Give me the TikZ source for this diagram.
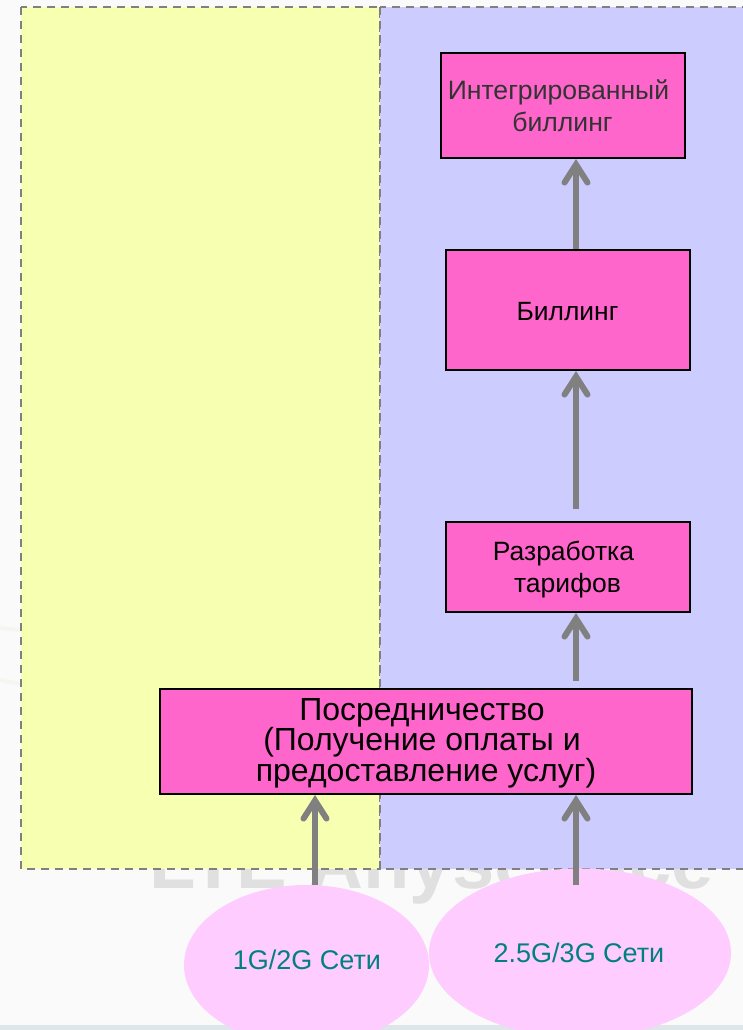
\documentclass[tikz,border=0pt]{standalone}
\usepackage{fontspec}
\setmainfont{Liberation Sans}
\usetikzlibrary{arrows.meta,shapes.geometric}
\definecolor{pinkbox}{HTML}{FF66CC}
\definecolor{pale}{HTML}{FFCCFF}
\definecolor{ylw}{HTML}{F7FFB0}
\definecolor{lav}{HTML}{CCCCFF}
\definecolor{arr}{HTML}{808080}
\definecolor{tealt}{HTML}{008080}
\tikzset{
  x=1pt,y=-1pt,
  zone/.style={draw=arr,line width=1.8pt,dash pattern=on 8pt off 6pt},
  pbox/.style={draw=black,line width=2pt,fill=pinkbox,align=center,inner sep=0pt,anchor=north west},
  net/.style={ellipse,fill=pale,inner sep=0pt},
  up/.style={draw=arr,line width=6pt,-{Straight Barb[length=18pt,width=23pt,line cap=round,line join=miter]}},
  netlabel/.style={text=tealt,font=\fontsize{27}{30}\selectfont}
}
\begin{document}
\begin{tikzpicture}
\useasboundingbox (0,0) rectangle (743,1030);
\fill[white!98!black] (0,0) rectangle (743,1030);
\fill[white!90!black!95!cyan] (0,1025) rectangle (743,1030);
\draw[line width=4pt,color=yellow!35!black!6] (0,628) -- (20,630);
\draw[line width=4pt,color=yellow!35!black!6] (0,680) -- (20,684);
\draw[line width=3pt,color=yellow!20!black!3] (130,870) -- (130,1010);
\node[text=black!12,font=\bfseries\fontsize{76}{76}\selectfont,anchor=base west] (wm) at (146,888) {LTE Anyservice};
\path[zone,fill=ylw] (21,7) rectangle (380,869);
\path[zone,fill=lav] (380,7) rectangle (760,869);
\node[net,minimum width=245,minimum height=160] (g2) at (306.5,965) {};
\node[net,minimum width=302,minimum height=169] (g3) at (580,953) {};
\node[netlabel] (g2t) at (307,960) {1G/2G Сети};
\node[netlabel] (g3t) at (579,953) {2.5G/3G Сети};
\node[pbox,minimum width=244,minimum height=105,text=black!80,font=\fontsize{26.6}{32}\selectfont] (integ) at (439.5,52) {Интегрированный\rule{8pt}{0pt}\\биллинг};
\node[pbox,minimum width=244,minimum height=120,font=\fontsize{26.4}{30}\selectfont] (bill) at (444.5,249) {\rule{0pt}{21pt}Биллинг};
\node[pbox,minimum width=244,minimum height=90,font=\fontsize{26.5}{32}\selectfont] (tar) at (444.5,521) {\rule{0pt}{25pt}Разработка\rule{8pt}{0pt}\\тарифов};
\node[pbox,minimum width=532,minimum height=105.5,font=\fontsize{32}{30.3}\selectfont] (med) at (159,687.5) {\rule{0pt}{26pt}Посредничество\rule{8pt}{0pt}\\(Получение оплаты и\rule{8pt}{0pt}\\предоставление услуг)};
\coordinate (a1) at (576,249);
\coordinate (a2) at (576,509);
\coordinate (a3) at (576,681);
\coordinate (a4) at (315,885);
\coordinate (a5) at (576,885);
\draw[up] (a1) -- (a1 |- integ.south);
\draw[up] (a2) -- (a2 |- bill.south);
\draw[up] (a3) -- (a3 |- tar.south);
\draw[up] (a4) -- (a4 |- med.south);
\draw[up] (a5) -- (a5 |- med.south);
\end{tikzpicture}
\end{document}
